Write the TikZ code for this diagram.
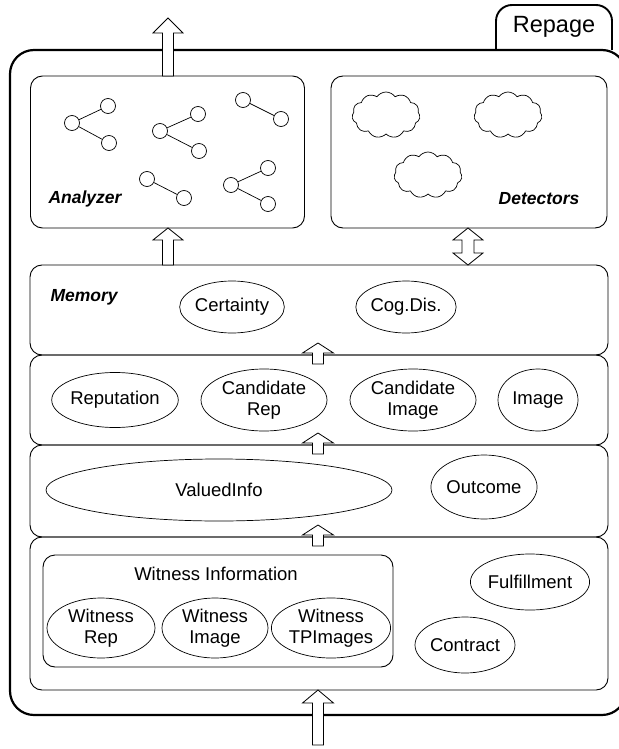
\documentclass[tikz,border=0pt]{standalone}
\usepackage{fontspec}
\setmainfont{Liberation Sans}
\usetikzlibrary{shapes.geometric,shapes.symbols,calc}
\tikzset{
  lay/.style={draw, line width=0.9pt, rounded corners=12pt},
  ell/.style={draw, ellipse, line width=0.7pt, inner sep=0pt, align=center, font=\fontsize{18.5}{21.5}\selectfont},
  gnode/.style={draw, circle, line width=0.7pt, minimum size=15pt, inner sep=0pt},
  gedge/.style={line width=0.7pt},
  cloudy/.style={draw, cloud, cloud puffs=11, cloud puff arc=110, aspect=1.5, line width=0.7pt, minimum width=68pt, minimum height=46pt, inner sep=0pt},
  bilabel/.style={font=\fontsize{17.5}{20}\selectfont\bfseries\itshape},
  txt/.style={font=\fontsize{18.5}{21.5}\selectfont, align=center},
  arrowline/.style={draw, fill=white, line width=0.8pt, line join=miter}
}
\newcommand{\blockup}[5]{% x, tip, base, head height, head half width
  \path[arrowline] ({#1-5.5},#3) -- ({#1-5.5},{#2+#4}) -- ({#1-#5},{#2+#4}) -- (#1,#2) -- ({#1+#5},{#2+#4}) -- ({#1+5.5},{#2+#4}) -- ({#1+5.5},#3) -- cycle;}
\begin{document}
\begin{tikzpicture}[x=1pt,y=-1pt]
\useasboundingbox (0,0) rectangle (618,749);
% outer Repage frame and tab
\draw[line width=1.9pt, rounded corners=16pt] (496,50) -- (496,5) -- (612,5) -- (612,50);
\draw[line width=2.2pt, rounded corners=24pt] (10,50) rectangle (626,715);
\node[font=\fontsize{23.5}{26}\selectfont] (repage) at (554,27) {Repage};

% Analyzer
\node[lay, minimum width=274pt, minimum height=152pt] (analyzer) at (167.5,152) {};
\node[bilabel] (analyzerlbl) at (85,199) {Analyzer};
\node[gnode] (g1a) at (72,123) {};
\node[gnode] (g1b) at (108,106) {};
\node[gnode] (g1c) at (109,143) {};
\draw[gedge] (g1a) -- (g1b); \draw[gedge] (g1a) -- (g1c);
\node[gnode] (g2a) at (160,131) {};
\node[gnode] (g2b) at (198,114) {};
\node[gnode] (g2c) at (199,151) {};
\draw[gedge] (g2a) -- (g2b); \draw[gedge] (g2a) -- (g2c);
\node[gnode] (g3a) at (243,100) {};
\node[gnode] (g3b) at (281,119) {};
\draw[gedge] (g3a) -- (g3b);
\node[gnode] (g4a) at (147,179) {};
\node[gnode] (g4b) at (184,198) {};
\draw[gedge] (g4a) -- (g4b);
\node[gnode] (g5a) at (231,185) {};
\node[gnode] (g5b) at (268,168) {};
\node[gnode] (g5c) at (268,204) {};
\draw[gedge] (g5a) -- (g5b); \draw[gedge] (g5a) -- (g5c);

% Detectors
\node[lay, minimum width=276pt, minimum height=152pt] (detectors) at (469,152) {};
\node[cloudy] (cl1) at (386,115) {};
\node[cloudy] (cl2) at (508,115) {};
\node[cloudy] (cl3) at (428,175) {};
\node[bilabel] (detlbl) at (539,199) {Detectors};

% Layers
\node[lay, minimum width=578pt, minimum height=90pt] (memory) at (319,310) {};
\node[lay, minimum width=578pt, minimum height=90pt] (layB) at (319,400) {};
\node[lay, minimum width=578pt, minimum height=92pt] (layC) at (319,491) {};
\node[lay, minimum width=578pt, minimum height=153pt] (layD) at (319,613.5) {};
\node[bilabel, anchor=west] (memlbl) at (47,297) {Memory};

\node[ell, minimum width=98pt, minimum height=52pt] (cert) at (232,307) {Certainty};
\node[ell, minimum width=96pt, minimum height=52pt] (cog) at (406,307) {Cog.Dis.};

\node[ell, minimum width=126pt, minimum height=55pt] (rep) at (115,400) {Reputation};
\node[ell, minimum width=126pt, minimum height=62pt] (crep) at (264,400) {Candidate\\Rep};
\node[ell, minimum width=126pt, minimum height=62pt] (cimg) at (413,400) {Candidate\\Image};
\node[ell, minimum width=80pt, minimum height=62pt] (img) at (538,400) {Image};

\node[ell, minimum width=346pt, minimum height=62pt] (vinfo) at (219,490) {ValuedInfo};
\node[ell, minimum width=102pt, minimum height=64pt] (outc) at (484,487) {Outcome};

\node[lay, minimum width=350pt, minimum height=112pt] (winfo) at (218,611) {};
\node[txt] (winfolbl) at (216,574) {Witness Information};
\node[ell, minimum width=108pt, minimum height=60pt] (wrep) at (101,628) {Witness\\Rep};
\node[ell, minimum width=106pt, minimum height=60pt] (wimg) at (215,628) {Witness\\Image};
\node[ell, minimum width=114pt, minimum height=60pt] (wtp) at (331,628) {Witness\\TPImages};
\node[ell, minimum width=114pt, minimum height=56pt] (fulf) at (530,582) {Fulfillment};
\node[ell, minimum width=100pt, minimum height=56pt] (contr) at (465,645) {Contract};

% arrows
\blockup{168}{18}{76}{15}{15}
\blockup{168}{228}{265}{12}{15}
\blockup{318}{343}{364}{10}{15.5}
\blockup{318}{433}{454}{10}{15.5}
\blockup{318}{525}{546}{10}{15.5}
\blockup{318}{690}{745}{13}{15.5}
% double arrow between detectors and memory
\path[arrowline] (468,228) -- (483,240) -- (474,240) -- (474,253) -- (483,253) -- (468,265) -- (453,253) -- (462,253) -- (462,240) -- (453,240) -- cycle;
\end{tikzpicture}
\end{document}
